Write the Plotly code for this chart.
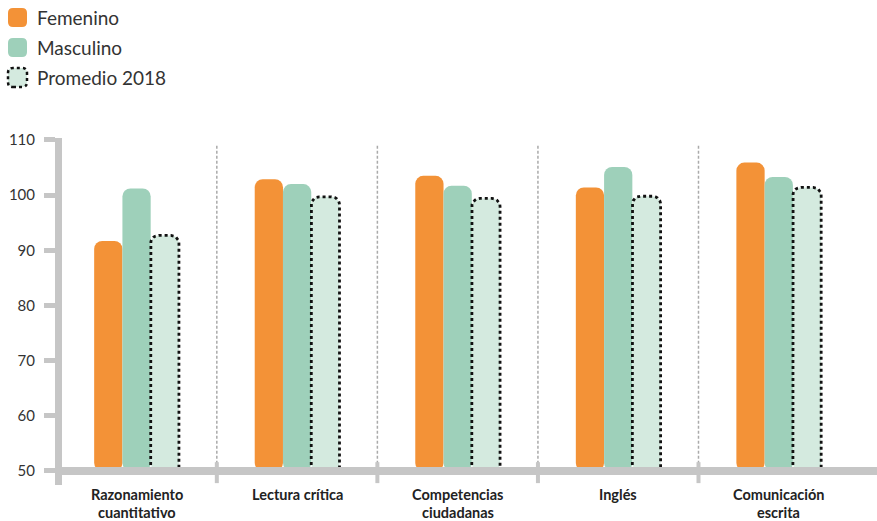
import numpy as np
import plotly.graph_objects as go

categories = ["Razonamiento<br>cuantitativo", "Lectura crítica", "Competencias<br>ciudadanas", "Inglés", "Comunicación<br>escrita"]
femenino = [91.7, 102.9, 103.5, 101.4, 105.9]
masculino = [101.2, 102.0, 101.7, 105.1, 103.3]
promedio = [92.7, 99.7, 99.4, 99.8, 101.4]
y_ticks = [50, 60, 70, 80, 90, 100, 110]

W, H = 877, 521
ML, MR, MT, MB = 62, 0, 138, 36
PW, PH = W - ML - MR, H - MT - MB
X0, X1 = -0.4643, 4.6118
Y0, Y1 = 47.46, 110.36
BASE = 50
BW = 0.176
OFFS = [-0.264, -0.088, 0.088]
CR = 8  # corner radius px

ORANGE = "#F39237"
GREEN = "#9ED0BA"
LIGHT = "#D4EADF"
GREY = "#C6C6C6"
TXT = "#333333"
FONT = "Lato"

xs = np.arange(len(categories))
fig = go.Figure()
for vals, col, off, name in [(femenino, ORANGE, OFFS[0], "Femenino"),
                             (masculino, GREEN, OFFS[1], "Masculino"),
                             (promedio, LIGHT, OFFS[2], "Promedio 2018")]:
    fig.add_trace(go.Bar(x=xs, y=[v - BASE for v in vals], base=BASE, width=BW, offset=off,
                         marker=dict(color=col, line=dict(width=0), cornerradius=CR),
                         name=name, showlegend=False, hoverinfo="skip"))

# dotted outline for promedio bars
pxu = PW / (X1 - X0)
pyu = PH / (Y1 - Y0)
rx, ry = CR / pxu, CR / pyu
ox, oy = [], []
for i, v in enumerate(promedio):
    xl = i + OFFS[2]
    xr = xl + BW
    pts_x = [xl, xl]
    pts_y = [BASE, v - ry]
    for t in np.linspace(np.pi, np.pi / 2, 8):
        pts_x.append(xl + rx + rx * np.cos(t)); pts_y.append(v - ry + ry * np.sin(t))
    for t in np.linspace(np.pi / 2, 0, 8):
        pts_x.append(xr - rx + rx * np.cos(t)); pts_y.append(v - ry + ry * np.sin(t))
    pts_x += [xr]; pts_y += [BASE]
    ox += pts_x + [None]; oy += pts_y + [None]
fig.add_trace(go.Scatter(x=ox, y=oy, mode="lines", line=dict(color="#111111", width=2.8, dash="dot"),
                         showlegend=False, hoverinfo="skip"))

shapes = []
# separators
for i in range(len(categories) - 1):
    shapes.append(dict(type="line", xref="x", yref="y", x0=i + 0.5, x1=i + 0.5, y0=BASE + 1.3, y1=109.3,
                       line=dict(color="#AAAAAA", width=1.5, dash="3px,2px"), layer="below"))
    shapes.append(dict(type="line", xref="x", yref="y", x0=i + 0.5, x1=i + 0.5, y0=BASE - 2.2, y1=BASE + 1.6,
                       line=dict(color=GREY, width=4), layer="above"))
# x axis line at 50
shapes.append(dict(type="line", xref="paper", yref="y", x0=-4 / PW, x1=1, y0=BASE, y1=BASE,
                   line=dict(color=GREY, width=8), layer="above"))


def rpath(w, h, r):
    return (f"M {r},0 L {w-r},0 Q {w},0 {w},{r} L {w},{h-r} Q {w},{h} {w-r},{h} "
            f"L {r},{h} Q 0,{h} 0,{h-r} L 0,{r} Q 0,0 {r},0 Z")


def px2paper(px, py):
    return (px - ML) / PW, (H - MB - py) / PH


legend = [("Femenino", ORANGE, None, 17.5), ("Masculino", GREEN, None, 47.5), ("Promedio 2018", LIGHT, "dot", 77.5)]
annotations = []
for name, col, dash, cy in legend:
    ax_, ay_ = px2paper(8, cy + 9.5)
    shapes.append(dict(type="path", xref="paper", yref="paper", xsizemode="pixel", ysizemode="pixel",
                       xanchor=ax_, yanchor=ay_, path=rpath(19, 19, 5), fillcolor=col,
                       line=dict(color="#111111" if dash else col, width=2.5 if dash else 0, dash=dash or "solid")))
    tx, ty = px2paper(35, cy)
    annotations.append(dict(text=name, xref="paper", yref="paper", x=tx, y=ty, xanchor="left", yanchor="middle",
                            showarrow=False, font=dict(family=FONT, size=19, color=TXT)))

# category labels (two tight lines)
for i, lab in enumerate(categories):
    for j, line in enumerate(lab.split("<br>")):
        _, ly = px2paper(0, 494.5 + 17.5 * j)
        annotations.append(dict(text=line, xref="x", yref="paper", x=i, y=ly, xanchor="center", yanchor="middle",
                                showarrow=False,
                                font=dict(family=FONT, size=14.5, color="#222222", weight="bold")))

fig.update_layout(
    width=W, height=H, margin=dict(l=ML, r=MR, t=MT, b=MB),
    plot_bgcolor="white", paper_bgcolor="white", barmode="overlay",
    shapes=shapes, annotations=annotations, showlegend=False,
    xaxis=dict(range=[X0, X1], tickvals=list(xs), showticklabels=False, showgrid=False, zeroline=False,
               showline=False, ticks="", automargin=False),
    yaxis=dict(range=[Y0, Y1], tickvals=y_ticks, showgrid=False, zeroline=False, showline=True, automargin=False,
               linewidth=7, linecolor=GREY, ticks="outside", ticklen=11, tickwidth=5, tickcolor=GREY,
               ticklabelstandoff=6, tickfont=dict(family=FONT, size=15, color=TXT)),
)
fig.write_html("out.html", config={"displayModeBar": False},
               post_script="document.body.style.margin='0';document.body.style.overflow='hidden';")
